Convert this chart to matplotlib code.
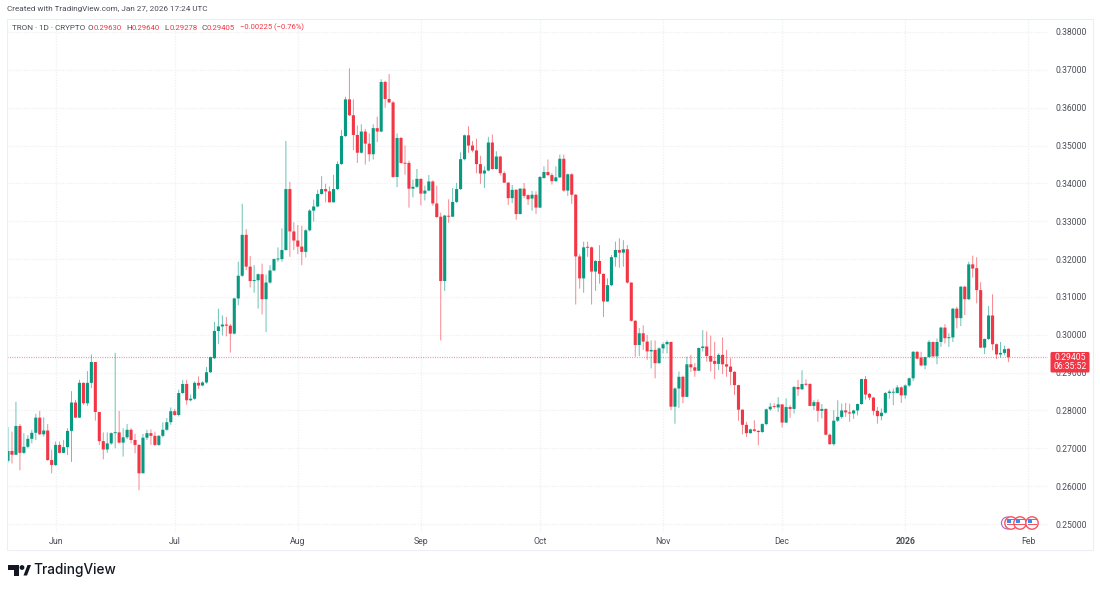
import numpy as np
import pandas as pd
import matplotlib
matplotlib.use('Agg')
import matplotlib.pyplot as plt
import matplotlib.dates as mdates
from matplotlib.patches import Circle, Polygon, Rectangle, FancyBboxPatch

plt.rcParams['font.family'] = ['Roboto', 'DejaVu Sans']

start_date = '2025-05-20'

opens = [.2667,.2693,.2683,.2759,.2688,.2704,.2725,.2741,.2781,.2737,
         .2747,.2669,.2656,.2709,.2688,.2703,.2746,.2821,.2781,.2873,
         .2819,.2873,.2928,.2796,.2719,.2697,.2713,.2740,.2742,.2715,
         .2729,.2749,.2722,.2709,.2634,.2728,.2740,.2733,.2709,.2733,
         .2749,.2769,.2798,.2788,.2846,.2870,.2827,.2831,.2873,.2866,
         .2874,.2901,.2938,.3010,.3022,.3027,.3024,.3003,.3096,.3156,
         .3264,.3180,.3142,.3144,.3160,.3094,.3138,.3170,.3199,.3200,
         .3224,.3385,.3273,.3249,.3233,.3219,.3276,.3328,.3339,.3372,
         .3385,.3379,.3350,.3385,.3451,.3525,.3622,.3580,.3528,.3481,
         .3537,.3505,.3477,.3546,.3537,.3668,.3623,.3614,.3417,.3520,
         .3454,.3454,.3386,.3391,.3412,.3373,.3381,.3405,.3347,.3312,
         .3142,.3314,.3312,.3351,.3385,.3464,.3527,.3500,.3487,.3451,
         .3426,.3434,.3508,.3438,.3471,.3427,.3402,.3361,.3383,.3319,
         .3386,.3369,.3360,.3370,.3336,.3414,.3430,.3422,.3406,.3416,
         .3465,.3381,.3424,.3370,.3207,.3149,.3231,.3231,.3167,.3195,
         .3161,.3088,.3131,.3205,.3224,.3217,.3226,.3138,.3037,.2973,
         .3004,.2982,.2956,.2960,.2925,.2964,.2975,.2981,.2810,.2858,
         .2889,.2836,.2922,.2914,.2905,.2965,.2969,.2944,.2931,.2923,
         .2947,.2922,.2916,.2902,.2867,.2802,.2762,.2740,.2750,.2746,
         .2743,.2764,.2803,.2810,.2808,.2816,.2768,.2809,.2804,.2862,
         .2856,.2870,.2870,.2812,.2822,.2799,.2804,.2736,.2711,.2773,
         .2783,.2800,.2795,.2792,.2800,.2817,.2883,.2844,.2834,.2799,
         .2785,.2794,.2846,.2847,.2846,.2861,.2840,.2866,.2885,.2955,
         .2940,.2919,.2941,.2981,.2943,.2981,.3019,.2991,.2993,.3069,
         .3044,.3127,.3094,.3186,.3176,.3118,.2966,.2989,.3051,.2975,
         .2948,.2952,.2963]

closes = [.2693,.2683,.2759,.2688,.2704,.2725,.2741,.2781,.2737,.2747,
          .2669,.2656,.2709,.2688,.2703,.2746,.2821,.2781,.2873,.2819,
          .2873,.2928,.2796,.2719,.2697,.2713,.2740,.2742,.2715,.2729,
          .2749,.2722,.2709,.2634,.2728,.2740,.2733,.2709,.2733,.2749,
          .2769,.2798,.2788,.2846,.2870,.2827,.2831,.2873,.2866,.2874,
          .2901,.2941,.3010,.3022,.3027,.3024,.3003,.3096,.3156,.3264,
          .3180,.3142,.3144,.3160,.3094,.3138,.3170,.3200,.3201,.3224,
          .3385,.3273,.3249,.3233,.3219,.3276,.3328,.3339,.3372,.3385,
          .3379,.3350,.3385,.3451,.3525,.3622,.3580,.3528,.3481,.3537,
          .3505,.3477,.3546,.3537,.3668,.3623,.3614,.3417,.3520,.3454,
          .3452,.3386,.3391,.3412,.3373,.3381,.3405,.3347,.3311,.3142,
          .3315,.3312,.3351,.3385,.3464,.3527,.3500,.3487,.3451,.3426,
          .3434,.3508,.3438,.3471,.3427,.3402,.3361,.3383,.3319,.3386,
          .3367,.3358,.3370,.3336,.3417,.3430,.3422,.3406,.3416,.3465,
          .3381,.3424,.3370,.3207,.3149,.3231,.3230,.3167,.3195,.3161,
          .3088,.3131,.3205,.3224,.3217,.3226,.3138,.3037,.2973,.3004,
          .2982,.2956,.2960,.2925,.2964,.2975,.2981,.2810,.2858,.2889,
          .2836,.2922,.2914,.2905,.2965,.2969,.2944,.2929,.2923,.2947,
          .2922,.2916,.2902,.2867,.2802,.2762,.2740,.2750,.2746,.2743,
          .2764,.2803,.2810,.2809,.2816,.2768,.2809,.2804,.2862,.2856,
          .2870,.2868,.2812,.2822,.2799,.2804,.2736,.2711,.2773,.2783,
          .2800,.2795,.2792,.2800,.2817,.2883,.2842,.2834,.2799,.2785,
          .2794,.2846,.2850,.2849,.2861,.2840,.2866,.2885,.2955,.2937,
          .2919,.2941,.2981,.2943,.2981,.3019,.2991,.2993,.3069,.3044,
          .3127,.3094,.3186,.3175,.3118,.2966,.2989,.3051,.2975,.2948,
          .2952,.2962,.29405]

highs = [.2756,.2744,.2823,.2764,.2740,.2735,.2749,.2791,.2799,.2782,
         .2764,.2696,.2718,.2718,.2722,.2753,.2851,.2828,.2881,.2874,
         .2904,.2948,.2928,.2796,.2742,.2742,.2742,.2952,.2799,.2753,
         .2764,.2753,.2738,.2711,.2738,.2749,.2750,.2744,.2735,.2769,
         .2780,.2808,.2804,.2855,.2880,.2881,.2842,.2877,.2890,.2877,
         .2915,.2942,.3034,.3069,.3051,.3047,.3029,.3098,.3193,.3346,
         .3279,.3208,.3184,.3162,.3188,.3159,.3184,.3202,.3231,.3281,
         .3512,.3404,.3297,.3290,.3288,.3279,.3332,.3357,.3383,.3419,
         .3399,.3392,.3423,.3458,.3541,.3629,.3704,.3622,.3553,.3556,
         .3544,.3532,.3556,.3576,.3675,.3671,.3689,.3618,.3532,.3523,
         .3500,.3460,.3410,.3438,.3413,.3394,.3422,.3408,.3394,.3323,
         .3317,.3358,.3388,.3401,.3482,.3529,.3551,.3512,.3518,.3473,
         .3445,.3523,.3529,.3485,.3472,.3432,.3403,.3396,.3385,.3388,
         .3401,.3371,.3380,.3379,.3419,.3445,.3463,.3427,.3445,.3476,
         .3476,.3426,.3427,.3372,.3213,.3246,.3246,.3233,.3197,.3237,
         .3162,.3149,.3211,.3246,.3255,.3250,.3237,.3138,.3038,.3018,
         .3025,.3000,.2985,.2985,.2967,.2980,.2985,.2982,.2861,.2903,
         .2892,.2942,.2947,.2925,.2966,.3012,.3009,.2998,.2981,.2951,
         .2993,.2960,.2938,.2904,.2868,.2803,.2770,.2752,.2774,.2748,
         .2766,.2805,.2820,.2819,.2835,.2817,.2832,.2814,.2865,.2881,
         .2906,.2882,.2872,.2827,.2829,.2817,.2806,.2739,.2801,.2827,
         .2818,.2820,.2818,.2802,.2818,.2884,.2891,.2846,.2836,.2809,
         .2805,.2849,.2855,.2858,.2867,.2864,.2869,.2887,.2957,.2957,
         .2955,.2942,.2986,.2982,.2990,.3021,.3028,.3004,.3071,.3074,
         .3129,.3129,.3193,.3209,.3205,.3139,.2990,.3076,.3107,.2977,
         .2981,.2971,.2964]

lows = [.2662,.2660,.2682,.2642,.2685,.2700,.2713,.2722,.2735,.2731,
        .2667,.2634,.2653,.2687,.2687,.2682,.2664,.2780,.2780,.2815,
        .2812,.2859,.2773,.2709,.2671,.2688,.2709,.2700,.2713,.2678,
        .2724,.2713,.2687,.2589,.2634,.2722,.2709,.2706,.2706,.2729,
        .2746,.2762,.2786,.2784,.2844,.2815,.2824,.2828,.2857,.2864,
        .2871,.2899,.2936,.2976,.2998,.2996,.2953,.3001,.3078,.3153,
        .3171,.3125,.3111,.3069,.3054,.3007,.3135,.3168,.3193,.3193,
        .3222,.3206,.3224,.3213,.3184,.3204,.3273,.3299,.3337,.3370,
        .3350,.3350,.3350,.3383,.3449,.3523,.3578,.3488,.3454,.3479,
        .3450,.3458,.3463,.3509,.3535,.3600,.3612,.3415,.3390,.3452,
        .3423,.3336,.3363,.3388,.3342,.3355,.3379,.3341,.3309,.2985,
        .3116,.3296,.3311,.3348,.3383,.3461,.3481,.3482,.3427,.3399,
        .3388,.3432,.3436,.3436,.3421,.3401,.3343,.3348,.3304,.3318,
        .3361,.3343,.3328,.3319,.3335,.3413,.3420,.3397,.3404,.3414,
        .3378,.3367,.3346,.3080,.3122,.3111,.3206,.3080,.3116,.3135,
        .3047,.3087,.3128,.3180,.3177,.3180,.3135,.3035,.2942,.2944,
        .2960,.2934,.2911,.2885,.2923,.2951,.2951,.2801,.2765,.2807,
        .2819,.2835,.2902,.2889,.2904,.2956,.2929,.2903,.2883,.2907,
        .2896,.2889,.2867,.2841,.2773,.2737,.2730,.2739,.2744,.2708,
        .2741,.2761,.2799,.2805,.2796,.2755,.2767,.2781,.2792,.2839,
        .2854,.2865,.2811,.2801,.2770,.2779,.2734,.2709,.2707,.2770,
        .2778,.2783,.2770,.2778,.2787,.2815,.2829,.2827,.2787,.2765,
        .2774,.2792,.2831,.2814,.2845,.2820,.2831,.2862,.2878,.2935,
        .2917,.2909,.2940,.2940,.2922,.2968,.2977,.2968,.2981,.3017,
        .3023,.3052,.3092,.3151,.3083,.2965,.2949,.2986,.2959,.2936,
        .2940,.2946,.29278]

price_ticks = np.arange(0.25, 0.385, 0.01)
month_ticks = ['2025-06-01', '2025-07-01', '2025-08-01', '2025-09-01', '2025-10-01',
               '2025-11-01', '2025-12-01', '2026-01-01', '2026-02-01']
month_labels = ['Jun', 'Jul', 'Aug', 'Sep', 'Oct', 'Nov', 'Dec', '2026', 'Feb']
last_price = 0.29405

up_col = '#089981'
down_col = '#f23645'
grid_col = '#f1f2f6'
frame_col = '#eceef3'
text_col = '#4a4d57'

W, H = 1100, 590
fig = plt.figure(figsize=(W / 100, H / 100), dpi=100)

# plot area in pixels, matched to the screenshot
left, right, top, bottom = 6.5, 1047.5, 19, 532
ax = fig.add_axes([left / W, 1 - bottom / H, (right - left) / W, (bottom - top) / H])

opens = np.array(opens)
closes = np.array(closes)
highs = np.array(highs)
lows = np.array(lows)
dates = pd.date_range(start_date, periods=len(opens))
x = mdates.date2num(dates)
colors = np.where(closes >= opens, up_col, down_col)

# wicks first, bodies on top. snapping off keeps the soft look of the screenshot
wicks = ax.vlines(x, lows, highs, colors=colors, lw=0.7, alpha=0.6, zorder=3)
wicks.set_snap(False)
bodies = ax.bar(x, np.maximum(np.abs(closes - opens), 0.00025), bottom=np.minimum(opens, closes),
                width=0.78, color=colors, linewidth=0, zorder=4)
for b in bodies:
    b.set_snap(False)

px_per_day = 3.97
x0 = x[0] - (8 - left) / px_per_day
ax.set_xlim(x0, x0 + (right - left) / px_per_day)
px_per_price = 3785.0
ax.set_ylim(0.25 - (bottom - 524) / px_per_price, 0.38 + (32 - top) / px_per_price)

ax.set_yticks(price_ticks)
ax.set_yticklabels(['%.5f' % p for p in price_ticks])
ax.yaxis.tick_right()
ax.set_xticks(mdates.date2num(pd.to_datetime(month_ticks)))
ax.set_xticklabels(month_labels)
ax.tick_params(axis='both', length=0, labelcolor=text_col)
ax.tick_params(axis='y', pad=5.8, labelsize=6.2)
ax.tick_params(axis='x', pad=3.5, labelsize=6.3)
ax.get_xticklabels()[7].set_fontweight('bold')
ax.grid(True, color=grid_col, lw=0.9, ls=(0, (1.2, 1)), zorder=0)
ax.set_axisbelow(True)
for s in ax.spines.values():
    s.set_visible(False)

ax.axhline(last_price, color='#f23645', lw=0.9, ls=(0, (0.8, 1.1)), alpha=0.55, zorder=2)

# overlay in pixel coordinates for the header, price tag, events and logo
ov = fig.add_axes([0, 0, 1, 1], facecolor='none')
ov.set_xlim(0, W)
ov.set_ylim(H, 0)
ov.axis('off')

# outer frame of the snapshot
ov.add_patch(Rectangle((6.5, 18.5), 1086.5, 531, fc='none', ec=frame_col, lw=0.8))

ov.text(7, 9.5, 'Created with TradingView.com, Jan 27, 2026 17:24 UTC', fontsize=5.85,
        color=text_col, va='center')

ov.text(12, 27.5, 'TRON · 1D · CRYPTO', fontsize=5.85, color=text_col, va='center')
legend_bits = [(88, 'O', '0.29630'), (126, 'H', '0.29640'), (164, 'L', '0.29278'), (201, 'C', '0.29405')]
for px, letter, val in legend_bits:
    ov.text(px, 27.5, letter, fontsize=5.85, color=text_col, va='center')
    ov.text(px + 5.2, 27.5, val, fontsize=5.6, color=down_col, va='center')
ov.text(240, 27.5, '−0.00225 (−0.76%)', fontsize=5.5, color=down_col, va='center')

# last price tag
ov.add_patch(FancyBboxPatch((1050.5, 352), 39, 20.5, boxstyle='round,pad=0,rounding_size=1.5',
                            fc=down_col, ec='none', zorder=5))
ov.text(1070, 357.3, '0.29405', fontsize=6.2, color='white', ha='center', va='center', zorder=6)
ov.text(1070, 366.8, '06:35:52', fontsize=6.2, color='white', ha='center', va='center', zorder=6)

# economic event badges
ov.add_patch(Circle((1007.5, 523), 6, fc='white', ec='#b05fc8', lw=0.8, zorder=5))
for cx in [1011, 1020, 1032]:
    ov.add_patch(Circle((cx, 523), 6.2, fc='white', ec='#f7525f', lw=1.0, zorder=6))
    ov.add_patch(Rectangle((cx - 4.5, 519), 4.5, 4, fc='#3d8be8', ec='none', zorder=7))
    ov.add_patch(Rectangle((cx, 519), 4.5, 1.3, fc='#f7525f', ec='none', zorder=7))
    ov.add_patch(Rectangle((cx - 4.5, 524), 9, 1.4, fc='#f7525f', ec='none', zorder=7))

# TradingView logo
logo_col = '#131722'
ov.add_patch(Polygon([(8, 565), (19, 565), (19, 575.5), (14, 575.5), (14, 570), (8, 570)], fc=logo_col, ec='none'))
ov.add_patch(Circle((22, 567.5), 2.4, fc=logo_col, ec='none'))
ov.add_patch(Polygon([(23.5, 575.5), (27.5, 565), (31, 565), (27, 575.5)], fc=logo_col, ec='none'))
ov.text(33, 570.3, 'TradingView', fontsize=9.8, color=logo_col, va='center', fontweight='medium',
        family=['Inter', 'DejaVu Sans'])

fig.savefig('out.png', dpi=100, facecolor='white')
